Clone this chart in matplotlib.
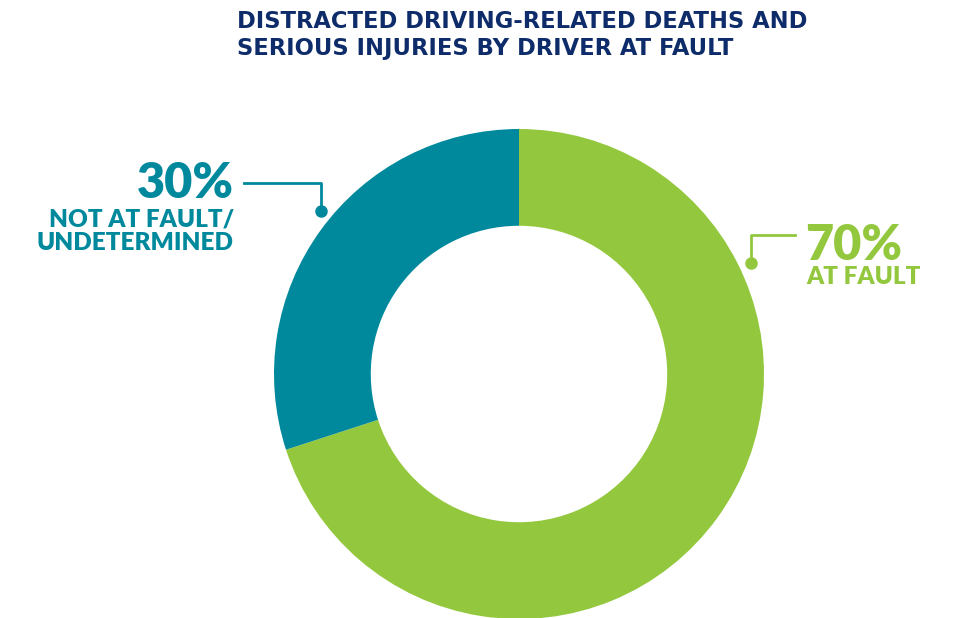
#!/usr/bin/env python3
"""Donut chart: distracted driving deaths / serious injuries by driver at fault."""

import matplotlib.pyplot as plt
from matplotlib.lines import Line2D

W, H = 954, 618

TITLE = "DISTRACTED DRIVING-RELATED DEATHS AND\nSERIOUS INJURIES BY DRIVER AT FAULT"

categories = ["AT FAULT", "NOT AT FAULT/\nUNDETERMINED"]
values = [70, 30]
colors = ["#93C83E", "#00899D"]

NAVY = "#0E2C6A"


def fx(px):
    return px / W


def fy(py):
    return 1 - py / H


def leader(fig, pts, color):
    xs = [fx(p[0]) for p in pts]
    ys = [fy(p[1]) for p in pts]
    fig.add_artist(Line2D(xs, ys, color=color, lw=2, transform=fig.transFigure))
    fig.add_artist(Line2D([xs[-1]], [ys[-1]], marker="o", ms=8, color=color,
                          transform=fig.transFigure))


def main():
    fig = plt.figure(figsize=(W / 100, H / 100), dpi=100)

    cx, cy, r = 519, 374, 245
    ax = fig.add_axes([fx(cx - r), fy(cy + r), 2 * r / W, 2 * r / H])
    ax.pie(values, colors=colors, startangle=90, counterclock=False,
           radius=1, wedgeprops=dict(width=0.395, linewidth=0))
    ax.set_xlim(-1, 1)
    ax.set_ylim(-1, 1)
    ax.set_aspect("equal")
    ax.axis("off")

    fig.text(fx(237), fy(10), TITLE, ha="left", va="top", color=NAVY,
             fontsize=16.3, fontweight="bold", family="DejaVu Sans",
             linespacing=1.22)

    big = dict(fontsize=35, fontweight="heavy", family="Lato")
    small = dict(fontsize=17.5, fontweight="heavy", family="Lato", linespacing=1.1)

    # not at fault
    fig.text(fx(234), fy(198), f"{values[1]}%", ha="right", va="baseline",
             color=colors[1], **big)
    fig.text(fx(234), fy(208), categories[1], ha="right", va="top",
             color=colors[1], **small)
    leader(fig, [(244, 183), (321, 183), (321, 211)], colors[1])

    # at fault
    fig.text(fx(805), fy(260), f"{values[0]}%", ha="left", va="baseline",
             color=colors[0], **big)
    fig.text(fx(806), fy(266), categories[0], ha="left", va="top",
             color=colors[0], **small)
    leader(fig, [(795, 235), (751, 235), (751, 263)], colors[0])

    fig.savefig("out.png", dpi=100)
    plt.close(fig)


if __name__ == "__main__":
    main()
